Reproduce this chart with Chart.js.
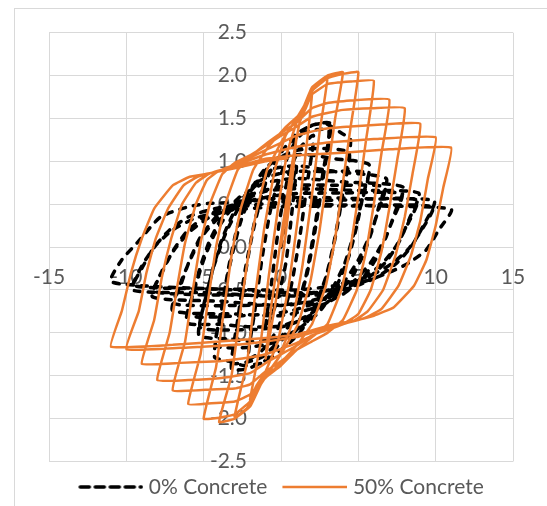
<!DOCTYPE html>
<html>
<head>
<meta charset="utf-8">
<script src="https://cdn.jsdelivr.net/npm/chart.js@4/dist/chart.umd.min.js"></script>
<style>
  html, body { margin: 0; padding: 0; background: #ffffff; overflow: hidden; }
  #frame { position: absolute; left: 14px; top: 8px; width: 700px; height: 700px; border: 1px solid #d9d9d9; }
  #c { position: absolute; left: 0; top: 0; }
</style>
</head>
<body>
<div id="frame"></div>
<canvas id="c" width="547" height="506"></canvas>
<script>
// Series names shown in the legend
const seriesNames = ['0% Concrete', '50% Concrete'];

// Axis ticks
const xTickValues = [-15, -10, -5, 0, 5, 10, 15];
const yTickValues = [-2.5, -2.0, -1.5, -1.0, -0.5, 0.0, 0.5, 1.0, 1.5, 2.0, 2.5];

// Load–displacement path, 0% concrete (x = displacement, y = load)
const concrete0Points = [
  [0,0],[0.5,0.55],[1.0,0.95],
  [0.7,0.4],[0.3,-0.2],[-0.3,-0.65],[-1.0,-0.95],
  [-0.6,-0.4],[-0.1,0.3],[0.5,0.85],[1.2,1.15],[2.1,1.3],
  [1.7,0.75],[1.2,0.1],[0.6,-0.5],[-0.2,-0.95],[-1.2,-1.2],[-2.1,-1.3],
  [-1.7,-0.75],[-1.2,-0.1],[-0.6,0.5],[0.2,0.95],[1.0,1.25],[2.0,1.42],[3.2,1.44],
  [2.8,0.9],[2.3,0.3],[1.7,-0.3],[0.9,-0.8],[0.0,-1.1],[-1.0,-1.32],[-2.2,-1.42],[-3.2,-1.42],
  [-2.8,-0.85],[-2.3,-0.25],[-1.6,0.35],[-0.8,0.85],[0.2,1.15],[1.3,1.32],[2.3,1.37],[3.1,1.36],
  [2.7,0.85],[2.2,0.25],[1.6,-0.35],[0.8,-0.82],[-0.2,-1.1],[-1.2,-1.28],[-2.2,-1.34],[-3.1,-1.35],
  [-2.8,-0.9],[-2.3,-0.3],[-1.7,0.3],[-0.9,0.8],[0.0,1.1],[1.0,1.32],[2.0,1.42],[2.9,1.44],[3.9,1.33],[4.5,1.25],
  [4.1,0.75],[3.6,0.2],[3.0,-0.3],[2.2,-0.72],[1.2,-1.0],[0.0,-1.2],[-1.2,-1.35],[-2.4,-1.38],[-3.4,-1.33],[-4.3,-1.28],
  [-3.9,-0.75],[-3.3,-0.2],[-2.6,0.3],[-1.7,0.7],[-0.6,0.98],[0.8,1.12],[2.5,1.15],[4.4,1.1],
  [4.0,0.65],[3.5,0.12],[2.9,-0.35],[2.0,-0.75],[0.8,-1.0],[-0.6,-1.12],[-2.2,-1.17],[-4.2,-1.15],
  [-3.9,-0.8],[-3.4,-0.25],[-2.8,0.25],[-2.0,0.65],[-1.0,0.92],[0.0,1.05],[1.5,1.08],[3.5,1.03],[5.7,0.96],
  [5.3,0.6],[4.9,0.25],[4.4,-0.1],[3.6,-0.45],[2.5,-0.75],[1.0,-0.97],[-0.5,-1.08],[-2.0,-1.1],[-3.5,-1.07],[-5.3,-1.03],
  [-4.9,-0.6],[-4.3,-0.2],[-3.6,0.15],[-2.6,0.5],[-1.3,0.78],[0.5,0.88],[3.0,0.88],[5.6,0.86],
  [5.2,0.52],[4.7,0.15],[4.1,-0.2],[3.2,-0.52],[2.0,-0.78],[0.3,-0.92],[-1.7,-0.96],[-5.2,-0.94],
  [-4.9,-0.62],[-4.4,-0.25],[-3.8,0.1],[-3.0,0.42],[-2.0,0.68],[-0.7,0.9],[1.0,0.95],[3.5,0.88],[6.8,0.8],
  [6.4,0.52],[5.9,0.2],[5.3,-0.1],[4.5,-0.37],[3.3,-0.6],[1.7,-0.8],[0.0,-0.92],[-2.0,-0.93],[-4.0,-0.9],[-6.1,-0.88],
  [-5.6,-0.5],[-5.0,-0.15],[-4.3,0.15],[-3.3,0.42],[-1.8,0.62],[0.5,0.72],[3.5,0.72],[6.7,0.7],
  [6.3,0.43],[5.7,0.12],[5.0,-0.15],[4.0,-0.42],[2.6,-0.62],[0.5,-0.75],[-2.5,-0.8],[-6.0,-0.8],
  [-5.7,-0.55],[-5.2,-0.22],[-4.6,0.08],[-3.8,0.35],[-2.7,0.58],[-1.0,0.75],[1.0,0.8],[4.0,0.76],[7.9,0.7],
  [7.4,0.42],[6.8,0.12],[6.1,-0.15],[5.2,-0.38],[4.0,-0.55],[2.3,-0.7],[0.0,-0.8],[-3.0,-0.78],[-7.0,-0.74],
  [-6.5,-0.42],[-5.8,-0.12],[-5.0,0.15],[-3.8,0.38],[-2.0,0.54],[0.5,0.62],[4.0,0.63],[7.8,0.62],
  [7.3,0.35],[6.6,0.06],[5.8,-0.18],[4.7,-0.4],[3.2,-0.56],[1.0,-0.66],[-3.0,-0.68],[-6.9,-0.66],
  [-6.5,-0.45],[-5.9,-0.15],[-5.2,0.12],[-4.2,0.35],[-2.8,0.52],[-1.0,0.65],[1.0,0.68],[5.0,0.66],[8.9,0.63],
  [8.3,0.33],[7.6,0.05],[6.8,-0.17],[5.7,-0.35],[4.3,-0.5],[2.5,-0.62],[0.0,-0.68],[-4.0,-0.63],[-8.3,-0.58],
  [-7.7,-0.28],[-6.9,-0.03],[-5.9,0.18],[-4.5,0.36],[-2.5,0.47],[0.5,0.53],[4.5,0.55],[8.8,0.55],
  [8.2,0.27],[7.4,0.0],[6.5,-0.2],[5.3,-0.36],[3.7,-0.48],[1.5,-0.55],[-2.5,-0.56],[-8.2,-0.52],
  [-7.7,-0.3],[-7.0,-0.05],[-6.1,0.18],[-4.9,0.36],[-3.3,0.48],[-1.0,0.56],[2.0,0.58],[6.0,0.56],[9.9,0.54],
  [9.2,0.25],[8.4,0.0],[7.4,-0.2],[6.1,-0.36],[4.4,-0.48],[2.2,-0.56],[-1.0,-0.57],[-5.0,-0.53],[-9.6,-0.5],
  [-9.0,-0.22],[-8.1,0.02],[-7.0,0.2],[-5.5,0.34],[-3.3,0.43],[0.0,0.47],[4.5,0.48],[9.8,0.47],
  [9.1,0.2],[8.2,-0.03],[7.1,-0.2],[5.7,-0.34],[3.8,-0.44],[1.0,-0.5],[-3.5,-0.49],[-9.5,-0.45],
  [-9.0,-0.25],[-8.2,0.0],[-7.2,0.2],[-5.9,0.36],[-4.0,0.46],[-1.5,0.5],[2.0,0.5],[6.0,0.48],[11.0,0.44],
  [10.2,0.2],[9.4,-0.03],[8.3,-0.18],[7.2,-0.28],[5.1,-0.42],[2.1,-0.53],[-1.0,-0.52],[-4.0,-0.49],[-8.0,-0.46],[-11.0,-0.4],
  [-10.3,-0.15],[-9.3,0.05],[-7.8,0.35],[-6.0,0.47],[-4.6,0.51],[-2.0,0.52]
];

// Load–displacement path, 50% concrete
const concrete50Points = [
  [0,0],[0.5,0.62],[1.0,1.28],
  [0.7,0.75],[0.2,0.0],[-0.4,-0.7],[-1.0,-1.3],
  [-0.6,-0.65],[0.0,0.1],[0.6,0.85],[1.2,1.45],[1.6,1.62],[2.0,1.78],
  [1.6,1.1],[1.1,0.35],[0.5,-0.45],[-0.2,-1.1],[-1.0,-1.45],[-1.6,-1.62],[-2.0,-1.78],
  [-1.3,-1.1],[-0.8,-0.35],[-0.2,0.45],[0.4,1.1],[1.0,1.45],[1.5,1.62],[2.2,1.88],[3.0,1.98],
  [2.5,1.35],[2.0,0.6],[1.4,-0.2],[0.7,-0.9],[-0.2,-1.3],[-1.0,-1.5],[-1.5,-1.62],[-2.2,-1.88],[-3.0,-1.98],
  [-2.2,-1.35],[-1.7,-0.6],[-1.1,0.2],[-0.4,0.9],[0.3,1.3],[1.0,1.5],[1.5,1.65],[2.0,1.86],[3.0,2.0],[4.0,2.04],
  [3.5,1.5],[3.0,0.85],[2.5,0.2],[1.9,-0.4],[1.1,-0.9],[0.0,-1.25],[-1.3,-1.6],[-2.0,-1.86],[-3.0,-2.0],[-4.0,-2.04],
  [-3.2,-1.5],[-2.7,-0.85],[-2.2,-0.2],[-1.6,0.4],[-0.9,0.9],[0.1,1.25],[1.3,1.58],[2.0,1.82],[3.0,1.97],[4.0,2.02],[5.0,2.04],
  [4.5,1.4],[4.0,0.75],[3.5,0.1],[2.9,-0.45],[2.0,-0.9],[1.0,-1.15],[-0.3,-1.4],[-1.3,-1.58],[-2.0,-1.8],[-3.0,-1.95],[-4.0,-1.99],[-5.0,-2.0],
  [-4.2,-1.4],[-3.7,-0.75],[-3.2,-0.1],[-2.6,0.45],[-1.8,0.9],[-0.9,1.15],[0.2,1.38],[1.2,1.55],[2.0,1.78],[3.0,1.9],[4.5,1.93],[6.0,1.94],
  [5.5,1.25],[5.0,0.6],[4.5,0.0],[3.9,-0.5],[3.0,-0.9],[2.0,-1.05],[1.0,-1.2],[0.0,-1.38],[-1.2,-1.55],[-2.0,-1.72],[-3.0,-1.8],[-4.5,-1.82],[-6.0,-1.83],
  [-5.2,-1.25],[-4.7,-0.6],[-4.2,0.0],[-3.6,0.5],[-2.8,0.9],[-2.0,1.05],[-1.0,1.2],[0.0,1.33],[1.0,1.45],[2.0,1.62],[3.0,1.68],[4.5,1.71],[7.0,1.72],
  [6.5,1.1],[6.0,0.5],[5.5,-0.05],[4.9,-0.5],[4.0,-0.85],[3.0,-1.0],[2.0,-1.1],[1.0,-1.2],[0.0,-1.33],[-1.0,-1.45],[-2.0,-1.6],[-3.0,-1.65],[-4.5,-1.66],[-7.0,-1.67],
  [-6.2,-1.1],[-5.7,-0.5],[-5.2,0.05],[-4.6,0.5],[-3.8,0.85],[-3.0,0.98],[-2.0,1.07],[-1.0,1.18],[0.0,1.3],[0.8,1.38],[2.0,1.52],[4.0,1.6],[6.0,1.62],[8.0,1.62],
  [7.5,1.0],[7.0,0.45],[6.5,-0.05],[5.8,-0.5],[5.0,-0.78],[4.0,-0.9],[2.0,-1.03],[1.0,-1.15],[-0.8,-1.33],[-2.0,-1.47],[-4.0,-1.53],[-6.0,-1.55],[-8.0,-1.55],
  [-7.2,-1.0],[-6.7,-0.45],[-6.2,0.05],[-5.5,0.5],[-4.8,0.78],[-4.1,0.88],[-3.0,0.96],[-1.0,1.13],[1.0,1.3],[2.5,1.37],[4.0,1.4],[6.5,1.43],[9.0,1.44],
  [8.5,0.85],[8.0,0.35],[7.4,-0.1],[6.6,-0.5],[5.6,-0.75],[4.7,-0.86],[3.0,-0.95],[1.0,-1.12],[-1.0,-1.25],[-2.5,-1.3],[-4.0,-1.33],[-6.5,-1.35],[-9.0,-1.36],
  [-8.2,-0.85],[-7.7,-0.35],[-7.1,0.1],[-6.4,0.5],[-5.5,0.75],[-4.6,0.86],[-3.0,0.95],[-1.0,1.08],[1.0,1.17],[3.0,1.22],[6.0,1.26],[10.0,1.28],
  [9.5,0.8],[9.0,0.3],[8.4,-0.1],[7.6,-0.45],[6.5,-0.72],[5.5,-0.82],[4.8,-0.86],[3.0,-0.94],[1.0,-1.05],[-1.0,-1.1],[-3.0,-1.14],[-6.0,-1.17],[-10.0,-1.19],
  [-9.2,-0.75],[-8.7,-0.3],[-8.1,0.1],[-7.3,0.45],[-6.3,0.72],[-5.4,0.82],[-4.6,0.86],[-3.0,0.93],[-1.0,1.03],[1.0,1.07],[4.0,1.1],[7.0,1.14],[11.0,1.16],
  [10.5,0.7],[10.0,0.25],[9.4,-0.15],[8.6,-0.45],[7.3,-0.7],[6.0,-0.8],[4.9,-0.85],[3.0,-0.92],[1.0,-1.02],[-1.0,-1.06],[-4.0,-1.1],[-7.0,-1.14],[-11.0,-1.16],
  [-10.3,-0.75],[-9.7,-0.3],[-9.0,0.1],[-8.2,0.45],[-7.0,0.72],[-5.9,0.82],[-4.6,0.86],[-3.0,0.92],[-1.0,1.0],[0.5,1.04]
];

const toXY = pts => pts.map(([x, y]) => ({ x, y }));

// Legend swatches: a 65px stroke drawn in the right part of a 70px canvas,
// so that the text sits close to the end of the stroke.
function swatch(color, width, dash, cap) {
  const cv = document.createElement('canvas');
  cv.width = 70; cv.height = 8;
  const g = cv.getContext('2d');
  g.strokeStyle = color;
  g.lineWidth = width;
  g.lineCap = cap;
  g.setLineDash(dash);
  g.beginPath();
  g.moveTo(cap === 'round' ? 7 : 5, 4);
  g.lineTo(cap === 'round' ? 68 : 70, 4);
  g.stroke();
  return cv;
}

const labelFont = { family: 'Lato', size: 21 };
const textColor = '#595959';
const gridColor = '#d9d9d9';

new Chart(document.getElementById('c'), {
  type: 'scatter',
  data: {
    datasets: [
      {
        label: seriesNames[0],
        data: toXY(concrete0Points),
        showLine: true,
        borderColor: '#000000',
        backgroundColor: '#000000',
        borderWidth: 3.5,
        borderDash: [6, 8],
        borderCapStyle: 'round',
        pointRadius: 0,
        pointStyle: swatch('#000000', 3.6, [9, 6], 'round'),
        tension: 0.2,
        order: 1
      },
      {
        label: seriesNames[1],
        data: toXY(concrete50Points),
        showLine: true,
        borderColor: '#ed7d31',
        backgroundColor: '#ed7d31',
        borderWidth: 2.5,
        pointRadius: 0,
        pointStyle: swatch('#ed7d31', 2.5, [], 'butt'),
        tension: 0.1,
        order: 0
      }
    ]
  },
  options: {
    responsive: false,
    animation: false,
    devicePixelRatio: 1,
    layout: { padding: { left: 49, right: 34, top: 32.7, bottom: -1.5 } },
    plugins: {
      tooltip: { enabled: false },
      legend: {
        position: 'bottom',
        labels: {
          usePointStyle: true,
          pointStyleWidth: 60,
          font: labelFont,
          color: textColor,
          padding: 15,
          sort: (a, b) => a.datasetIndex - b.datasetIndex
        }
      }
    },
    scales: {
      x: {
        type: 'linear',
        position: 'center',
        min: -15,
        max: 15,
        afterBuildTicks: s => { s.ticks = xTickValues.map(v => ({ value: v })); },
        ticks: { font: labelFont, color: textColor, padding: 0, maxRotation: 0, autoSkip: false },
        grid: { color: gridColor, lineWidth: 1, drawTicks: true, tickLength: 18, tickColor: 'rgba(0,0,0,0)' },
        border: { color: gridColor, width: 1 }
      },
      y: {
        type: 'linear',
        position: 'center',
        min: -2.5,
        max: 2.5,
        afterBuildTicks: s => { s.ticks = yTickValues.map(v => ({ value: v })); },
        ticks: { font: labelFont, color: textColor, padding: 0, autoSkip: false,
                 callback: v => Number(v).toFixed(1) },
        grid: { color: gridColor, lineWidth: 1, drawTicks: true, tickLength: 34, tickColor: 'rgba(0,0,0,0)' },
        border: { color: gridColor, width: 1 }
      }
    }
  }
});
</script>
</body>
</html>
